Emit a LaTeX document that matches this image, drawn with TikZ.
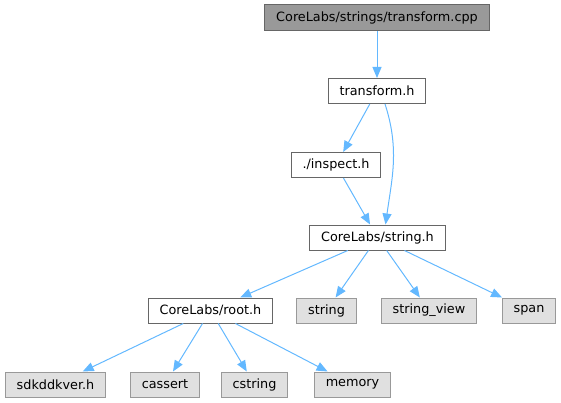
\documentclass[tikz,border=0pt]{standalone}
\usepackage{fontspec}
\setmainfont{DejaVu Sans}
\usetikzlibrary{arrows.meta}
\definecolor{edgeblue}{HTML}{63B8FF}
\definecolor{boxline}{HTML}{666666}
\definecolor{sysline}{HTML}{999999}
\definecolor{sysfill}{HTML}{E0E0E0}
\definecolor{rootfill}{HTML}{999999}
\begin{document}
\begin{tikzpicture}[
    x=1pt, y=-1pt,
    file/.style={rectangle, draw=boxline, fill=white, line width=1pt,
                 minimum height=25pt, inner xsep=11.5pt, inner ysep=0pt,
                 font=\fontsize{12.8}{15}\selectfont},
    rootfile/.style={file, fill=rootfill},
    sysfile/.style={file, draw=sysline, fill=sysfill},
    edge/.style={-{Triangle[length=11pt, width=9pt]}, edgeblue, line width=1pt},
]
\useasboundingbox (0,0) rectangle (561,403);
% top: the source file and its direct header
\node[rootfile, minimum height=26pt] (cpp) at (377,18) {CoreLabs/strings/transform.cpp};
\node[file] (tr) at (377,91) {transform.h};
\node[file] (ins) at (336,165) {./inspect.h};
\node[file] (sh) at (377.5,237.5) {CoreLabs/string.h};

% row three
\node[file] (rh) at (210.5,310.5) {CoreLabs/root.h};
\node[sysfile] (str) at (326.5,310.5) {string};
\node[sysfile] (sv) at (429,310.5) {string\_view};
\node[sysfile] (sp) at (529,310.5) {span};

% bottom row, included by root.h
\node[sysfile] (sdk) at (55.5,384.5) {sdkddkver.h};
\node[sysfile] (cas) at (165,384.5) {cassert};
\node[sysfile] (cst) at (254.5,384.5) {cstring};
\node[sysfile] (mem) at (352.5,384.5) {memory};

\draw[edge] (cpp) -- (tr);
\draw[edge] (tr) -- (ins);
\draw[edge] ([xshift=8pt]tr.south) to[out=-72, in=82] ([xshift=8pt]sh.north);
\draw[edge] (ins) -- (sh);

\draw[edge] (sh) -- (rh);
\draw[edge] (sh) -- (str);
\draw[edge] (sh) -- (sv);
\draw[edge] (sh) -- (sp);

\draw[edge] (rh) -- (sdk);
\draw[edge] (rh) -- (cas);
\draw[edge] (rh) -- (cst);
\draw[edge] (rh) -- (mem);
\end{tikzpicture}
\end{document}
